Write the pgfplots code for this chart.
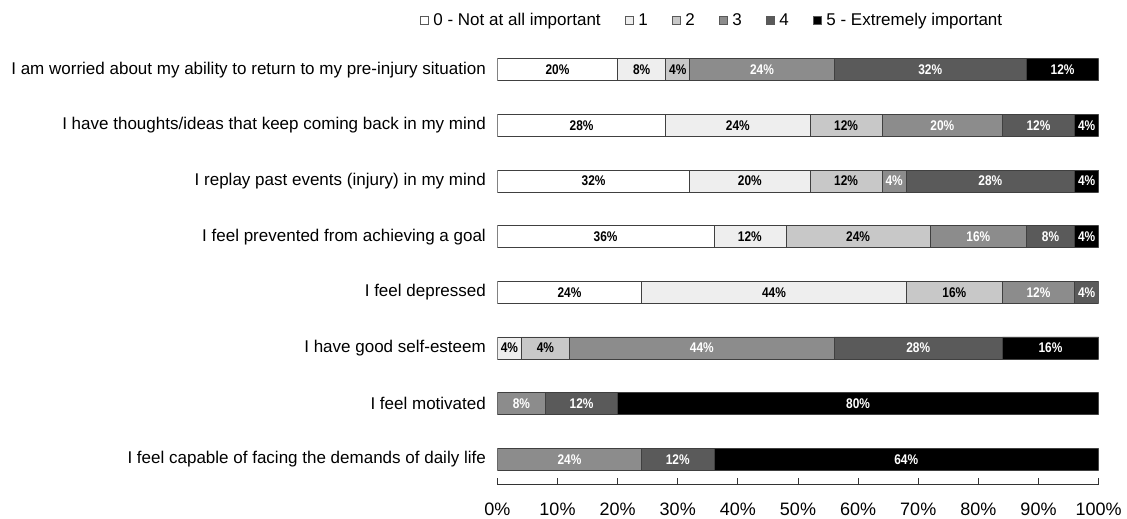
\documentclass[border=0pt]{standalone}
\usepackage{pgfplots}
\pgfplotsset{compat=1.18}
\usepackage{fontspec}
\setmainfont{Liberation Sans}
\newfontfamily\barfont[FakeStretch=0.85]{Liberation Sans}
\definecolor{c0}{HTML}{FFFFFF}
\definecolor{c1}{HTML}{EEEEEE}
\definecolor{c2}{HTML}{C8C8C8}
\definecolor{c3}{HTML}{8C8C8C}
\definecolor{c4}{HTML}{5A5A5A}
\definecolor{c5}{HTML}{000000}
\begin{document}
\begin{tikzpicture}
\begin{axis}[
  xbar stacked,
  scale only axis,
  width=601pt, height=442pt,
  bar width=22pt,
  xmin=0, xmax=100,
  ymin=-0.446, ymax=7.5,
  xtick={0,10,...,100},
  xticklabel={\pgfmathprintnumber{\tick}\%},
  /pgf/number format/assume math mode=true,
  ytick={0,...,7},
  yticklabels={I feel capable of facing the demands of daily life, I feel motivated, I have good self-esteem, I feel depressed, I feel prevented from achieving a goal, I replay past events (injury) in my mind, I have thoughts/ideas that keep coming back in my mind, I am worried about my ability to return to my pre-injury situation},
  axis x line*=bottom,
  axis y line*=left,
  y axis line style={draw=none},
  ytick style={draw=none},
  x axis line style={draw=black!80, line width=0.8pt},
  xtick style={draw=black!80, line width=0.8pt},
  tick align=inside,
  major tick length=6pt,
  yticklabel style={font=\fontsize{17}{20}\selectfont, xshift=-8pt},
  xticklabel style={font=\fontsize{18}{20}\selectfont, yshift=-15pt},
  point meta=explicit,
  nodes near coords={\pgfmathfloatifflags{\pgfplotspointmeta}{0}{}{\pgfmathprintnumber{\pgfplotspointmeta}\%}},
  every node near coord/.append style={font=\barfont\bfseries\fontsize{14}{14}\selectfont},
  every axis plot/.append style={draw=black!75, line width=0.6pt},
  legend columns=6,
  legend style={draw=none, at={(0.357,1)}, anchor=center, yshift=22pt,
    font=\fontsize{17}{20}\selectfont,
    /tikz/every even column/.append style={column sep=22pt}},
  legend image code/.code={\draw[#1, draw=gray!70!black, line width=0.5pt] (0pt,-4pt) rectangle (8pt,4pt); \path (11pt,0pt);},
]
\addplot[fill=c0, every node near coord/.append style={black}] coordinates {
(20,7) [20] (28,6) [28] (32,5) [32] (36,4) [36] (24,3) [24] (0,2) [0] (0,1) [0] (0,0) [0]};
\addplot[fill=c1, every node near coord/.append style={black}] coordinates {
(8,7) [8] (24,6) [24] (20,5) [20] (12,4) [12] (44,3) [44] (4,2) [4] (0,1) [0] (0,0) [0]};
\addplot[fill=c2, every node near coord/.append style={black}] coordinates {
(4,7) [4] (12,6) [12] (12,5) [12] (24,4) [24] (16,3) [16] (8,2) [4] (0,1) [0] (0,0) [0]};
\addplot[fill=c3, every node near coord/.append style={white}] coordinates {
(24,7) [24] (20,6) [20] (4,5) [4] (16,4) [16] (12,3) [12] (44,2) [44] (8,1) [8] (24,0) [24]};
\addplot[fill=c4, every node near coord/.append style={white}] coordinates {
(32,7) [32] (12,6) [12] (28,5) [28] (8,4) [8] (4,3) [4] (28,2) [28] (12,1) [12] (12,0) [12]};
\addplot[fill=c5, every node near coord/.append style={white}] coordinates {
(12,7) [12] (4,6) [4] (4,5) [4] (4,4) [4] (0,3) [0] (16,2) [16] (80,1) [80] (64,0) [64]};
\legend{0 - Not at all important, 1, 2, 3, 4, 5 - Extremely important}
\end{axis}
\path ([yshift=9pt]current bounding box.north);
\path ([xshift=-8pt]current bounding box.west);
\path ([xshift=2pt]current bounding box.east);
\end{tikzpicture}
\end{document}
